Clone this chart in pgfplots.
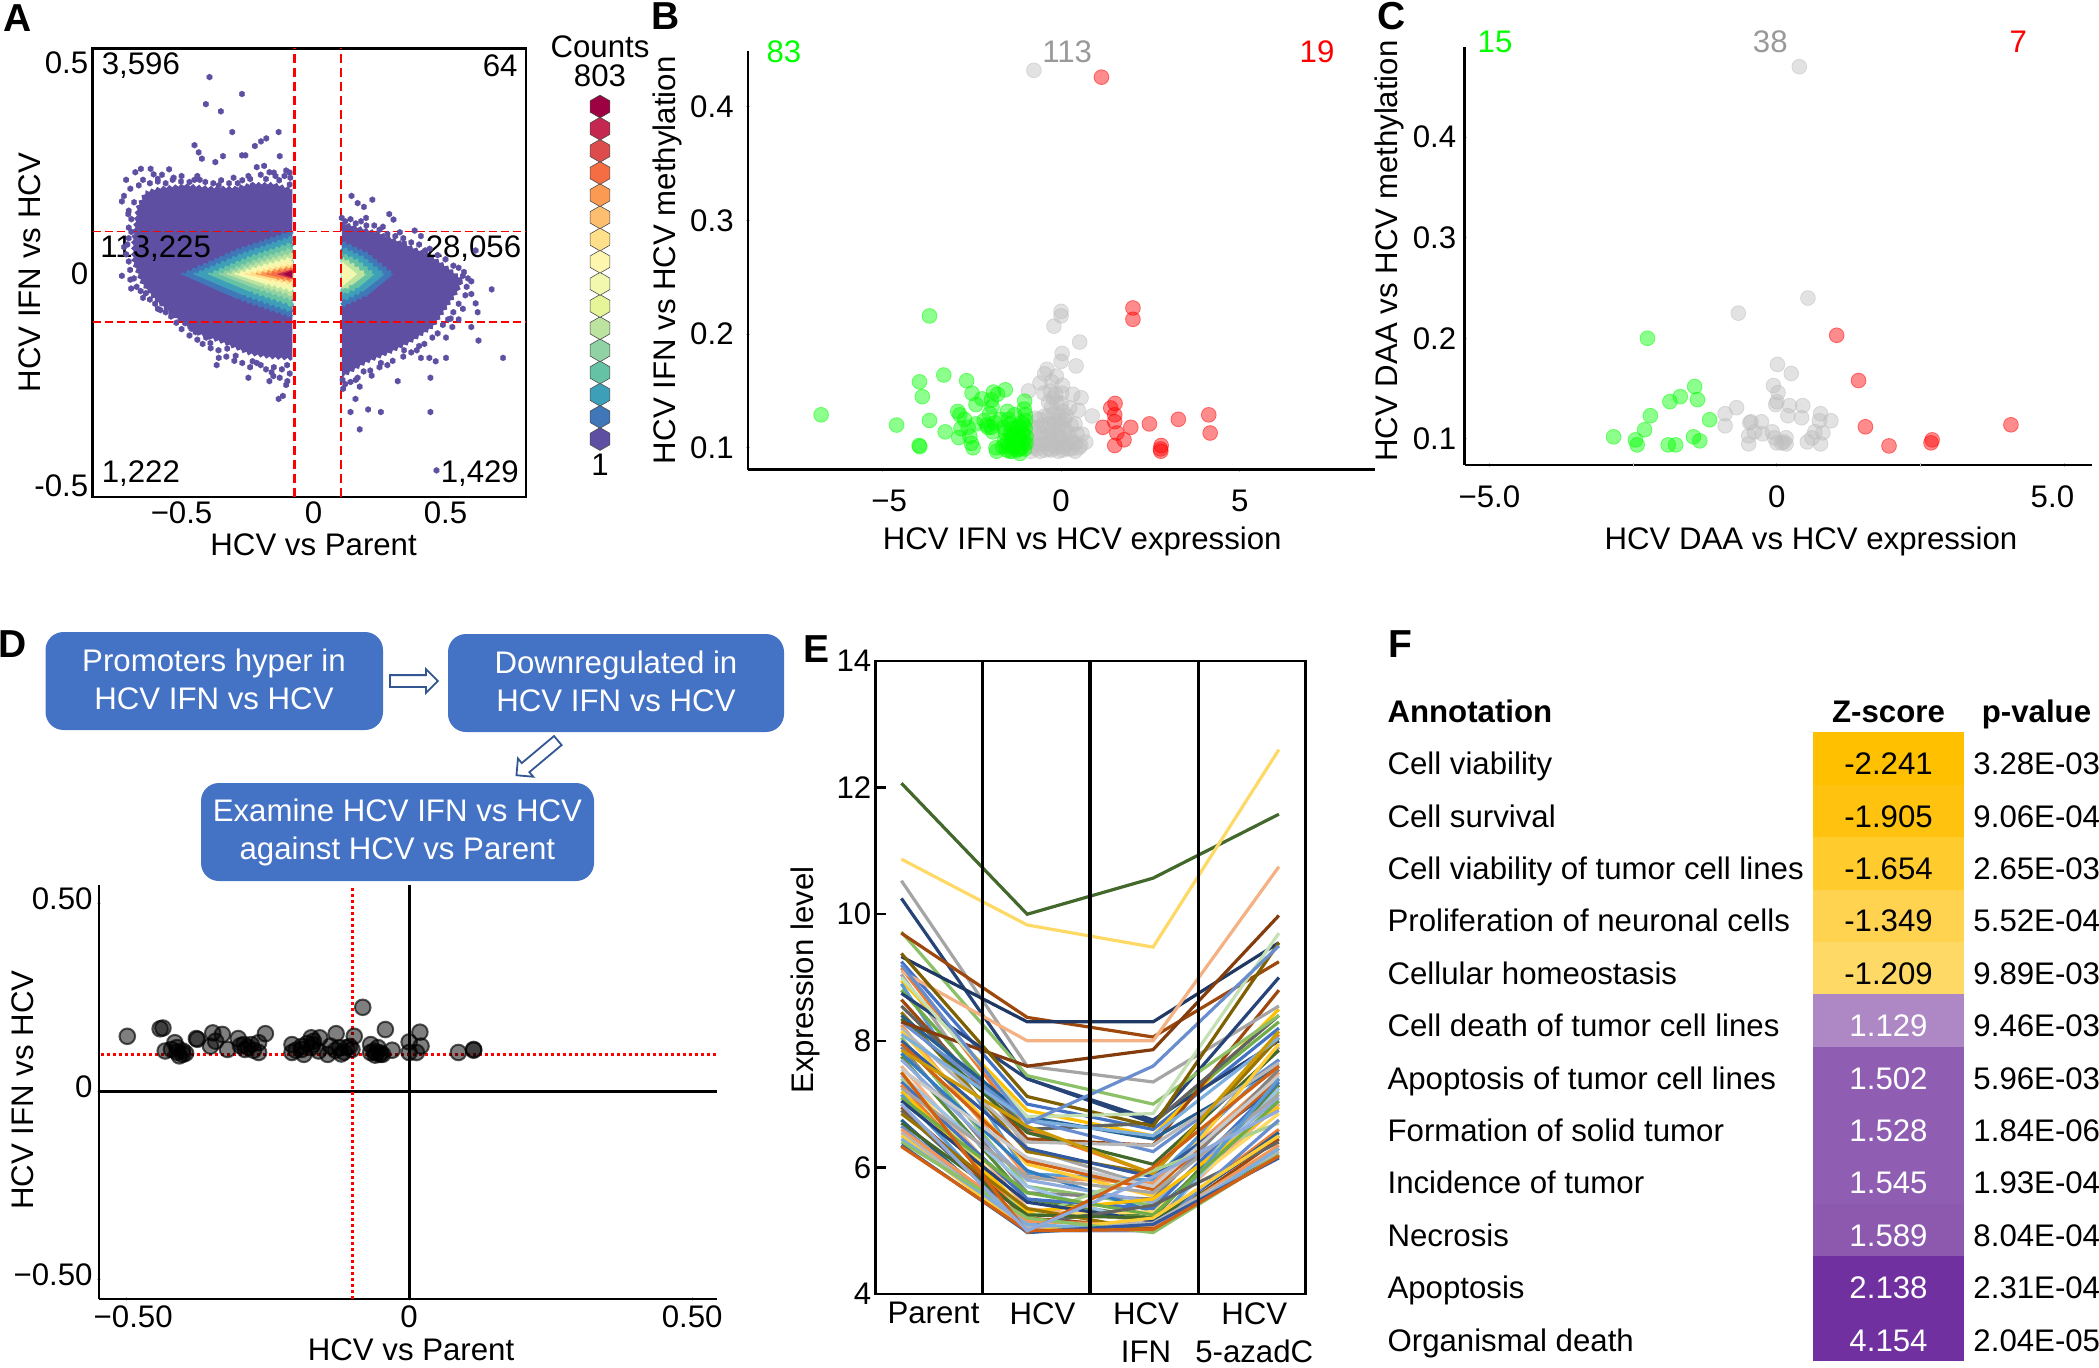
\documentclass[border=0pt]{standalone}
\usepackage{pgfplots}
\pgfplotsset{compat=1.18}
\usepackage{fontspec}
\setmainfont{Liberation Sans}
\usetikzlibrary{shapes.arrows,decorations.pathmorphing}

\newcommand{\ts}{\fontsize{15.6}{19}\selectfont}
\definecolor{boxblue}{HTML}{4472C4}
\definecolor{lime}{HTML}{00FF00}
\definecolor{dgray}{HTML}{999999}
\definecolor{pgray}{HTML}{BEBEBE}
% hexbin levels, 1 = low
\definecolor{h1}{HTML}{5E4FA2}\definecolor{h2}{HTML}{3F77B8}\definecolor{h3}{HTML}{3E9FB9}\definecolor{h4}{HTML}{66C2A5}
\definecolor{h5}{HTML}{90D2A4}\definecolor{h6}{HTML}{BDE3A0}\definecolor{h7}{HTML}{E6F598}\definecolor{h8}{HTML}{F2F9AE}
\definecolor{h9}{HTML}{FEF5AF}\definecolor{h10}{HTML}{FEE08B}\definecolor{h11}{HTML}{FDBE6F}\definecolor{h12}{HTML}{FB9A52}
\definecolor{h13}{HTML}{F46D43}\definecolor{h14}{HTML}{DC4C4C}\definecolor{h15}{HTML}{C4274F}\definecolor{h16}{HTML}{9E0142}
% line colours of panel E
\definecolor{e1}{HTML}{4472C4}\definecolor{e2}{HTML}{ED7D31}\definecolor{e3}{HTML}{A5A5A5}\definecolor{e4}{HTML}{FFC000}
\definecolor{e5}{HTML}{5B9BD5}\definecolor{e6}{HTML}{70AD47}\definecolor{e7}{HTML}{264478}\definecolor{e8}{HTML}{9E480E}
\definecolor{e9}{HTML}{636363}\definecolor{e10}{HTML}{997300}\definecolor{e11}{HTML}{255E91}\definecolor{e12}{HTML}{43682B}
\definecolor{e13}{HTML}{698ED0}\definecolor{e14}{HTML}{F1975A}\definecolor{e15}{HTML}{B7B7B7}\definecolor{e16}{HTML}{FFCD33}
\definecolor{e17}{HTML}{7CAFDD}\definecolor{e18}{HTML}{8CC168}\definecolor{e19}{HTML}{335AA1}\definecolor{e20}{HTML}{D26012}
\definecolor{e21}{HTML}{848484}\definecolor{e22}{HTML}{CC9A00}\definecolor{e23}{HTML}{327DC2}\definecolor{e24}{HTML}{5A8A39}
\definecolor{e25}{HTML}{8FAADC}\definecolor{e26}{HTML}{F4B183}\definecolor{e27}{HTML}{C9C9C9}\definecolor{e28}{HTML}{FFD966}
\definecolor{e29}{HTML}{9DC3E6}\definecolor{e30}{HTML}{A9D18E}\definecolor{e31}{HTML}{1F3864}\definecolor{e32}{HTML}{843C0C}
\definecolor{e33}{HTML}{7F6000}\definecolor{e34}{HTML}{C5E0B4}
% table fills of panel F
\definecolor{f1}{HTML}{FFC000}\definecolor{f2}{HTML}{FFC20E}\definecolor{f3}{HTML}{FFCB2D}\definecolor{f4}{HTML}{FFD34F}\definecolor{f5}{HTML}{FFD966}
\definecolor{f6}{HTML}{AE88C4}\definecolor{f7}{HTML}{8F5DB1}\definecolor{f8}{HTML}{8C59AE}\definecolor{f9}{HTML}{7030A0}

\pgfdeclareplotmark{hexa}{%
  \pgfpathmoveto{\pgfqpoint{0pt}{\pgfplotmarksize}}%
  \pgfpathlineto{\pgfqpoint{0.866\pgfplotmarksize}{0.5\pgfplotmarksize}}%
  \pgfpathlineto{\pgfqpoint{0.866\pgfplotmarksize}{-0.5\pgfplotmarksize}}%
  \pgfpathlineto{\pgfqpoint{0pt}{-\pgfplotmarksize}}%
  \pgfpathlineto{\pgfqpoint{-0.866\pgfplotmarksize}{-0.5\pgfplotmarksize}}%
  \pgfpathlineto{\pgfqpoint{-0.866\pgfplotmarksize}{0.5\pgfplotmarksize}}%
  \pgfpathclose\pgfusepathqfillstroke}

\pgfplotsset{
  base/.style={scale only axis,anchor=north west,clip=false,
    tick label style={font=\ts,inner sep=2pt},label style={font=\ts}},
  lined/.style={base,axis x line=bottom,axis y line=left,axis line style={-,line width=1.3pt},
    major tick length=2pt,tick style={pgray,line width=.4pt}},
  % hexbin density band, jagged outline
  hx/.style={fill=#1,draw=none,decorate,decoration={zigzag,segment length=3pt,amplitude=.7pt}},
  % translucent dots of panels B, C
  gdot/.style={only marks,mark=*,mark size=3.7pt,
    mark options={fill=#1,draw=#1,fill opacity=.45,draw opacity=.5,line width=.4pt}},
  bdot/.style={only marks,mark=*,mark size=3.9pt,
    mark options={fill=black,draw=black,fill opacity=.5,draw opacity=.65,line width=1pt}},
}
\newcommand{\el}[4]{\addplot coordinates {(0,#1)(1,#2)(2,#3)(3,#4)};}
\newcommand{\es}[5]{\addplot[#1] coordinates {(0,#2)(1,#3)(2,#4)(3,#5)};}
% row index, next index, fill, text colour, name, z, p
\newcommand{\frow}[7]{%
  \addplot[fill=#3,draw=none] coordinates {(0,#1)(1,#1)(1,#2)(0,#2)};
  \node[anchor=west,inner sep=0pt,text height=11.5pt,text depth=3.3pt,yshift=-4pt] at (axis cs:-2.82,#1.5) {#5};
  \node[text=#4,inner sep=0pt,text height=11.5pt,text depth=3.3pt,yshift=-4pt] at (axis cs:0.5,#1.5) {#6};
  \node[anchor=west,inner sep=0pt,text height=11.5pt,text depth=3.3pt,yshift=-4pt] at (axis cs:1.06,#1.5) {#7};}

\begin{document}
\begin{tikzpicture}[every node/.style={font=\ts}]
\useasboundingbox (0pt,0pt) rectangle (1049.5pt,-683.5pt);

%% A
\begin{axis}[base,at={(46.3pt,-24.15pt)},width=216.7pt,height=224.35pt,
  xmin=-0.837,xmax=0.805,ymin=-0.527,ymax=0.534,
  major tick length=0pt,axis line style={line width=1.4pt},
  xtick={-0.5,0,0.5},xticklabels={−0.5,0,0.5},
  ytick={-0.5,0,0.5},yticklabels={-0.5,0,0.5},
  xlabel={HCV vs Parent},ylabel={HCV IFN vs HCV},
  xlabel style={at={(axis description cs:.51,-.107)},anchor=center},
  ylabel style={at={(axis description cs:-.1456,.5)},anchor=center}]
\addplot[hx=h1] coordinates {(-.080,.202)(-.152,.215)(-.231,.215)(-.295,.206)(-.391,.206)(-.486,.212)(-.582,.205)(-.638,.195)(-.670,.159)(-.678,.116)(-.686,.082)(-.686,.030)(-.654,-.021)(-.598,-.064)(-.518,-.107)(-.439,-.142)(-.343,-.163)(-.247,-.189)(-.167,-.198)(-.080,-.202)};
\addplot[hx=h1] coordinates {(.107,.123)(.167,.112)(.247,.099)(.343,.073)(.439,.047)(.518,.013)(.566,-.013)(.550,-.039)(.502,-.082)(.455,-.125)(.375,-.159)(.295,-.185)(.199,-.210)(.107,-.245)};
\addplot[hx=h2] coordinates {(-.502,0)(-.292,.058)(-.080,.103)(-.080,-.103)(-.292,-.058)};
\addplot[hx=h3] coordinates {(-.455,0)(-.267,.050)(-.080,.090)(-.080,-.090)(-.267,-.050)};
\addplot[hx=h4] coordinates {(-.400,0)(-.240,.042)(-.080,.075)(-.080,-.075)(-.240,-.042)};
\addplot[hx=h5] coordinates {(-.360,0)(-.220,.034)(-.080,.062)(-.080,-.062)(-.220,-.034)};
\addplot[hx=h6] coordinates {(-.330,0)(-.205,.028)(-.080,.050)(-.080,-.050)(-.205,-.028)};
\addplot[hx=h8] coordinates {(-.300,0)(-.190,.022)(-.080,.040)(-.080,-.040)(-.190,-.022)};
\addplot[hx=h9] coordinates {(-.280,0)(-.180,.017)(-.080,.030)(-.080,-.030)(-.180,-.017)};
\addplot[hx=h10] coordinates {(-.260,0)(-.170,.013)(-.080,.024)(-.080,-.024)(-.170,-.013)};
\addplot[hx=h12] coordinates {(-.220,0)(-.150,.010)(-.080,.018)(-.080,-.018)(-.150,-.010)};
\addplot[hx=h13] coordinates {(-.180,0)(-.130,.008)(-.080,.014)(-.080,-.014)(-.130,-.008)};
\addplot[fill=h15,draw=none] coordinates {(-.140,0)(-.080,.011)(-.080,-.011)};
\addplot[fill=h16,draw=none] coordinates {(-.115,0)(-.080,.008)(-.080,-.008)};
\addplot[hx=h2] coordinates {(.303,0)(.205,.050)(.107,.078)(.107,-.078)(.205,-.050)};
\addplot[hx=h3] coordinates {(.270,0)(.190,.040)(.107,.065)(.107,-.065)(.190,-.040)};
\addplot[hx=h4] coordinates {(.231,0)(.170,.032)(.107,.050)(.107,-.050)(.170,-.032)};
\addplot[hx=h6] coordinates {(.200,0)(.150,.024)(.107,.040)(.107,-.040)(.150,-.024)};
\addplot[fill=h8,draw=none] coordinates {(.165,0)(.107,.030)(.107,-.030)};
\addplot[fill=h9,draw=none] coordinates {(.135,0)(.107,.020)(.107,-.020)};
\addplot[only marks,mark=hexa,mark size=1.55pt,mark options={fill=h1,draw=h1,line width=.1pt}] coordinates {
(-.394,.466)(-.271,.426)(-.408,.402)(-.351,.385)(-.308,.336)(-.132,.336)(-.179,.321)(-.199,.314)(-.222,.303)
(-.451,.305)(-.435,.288)(-.423,.273)(-.343,.279)(-.372,.265)(-.271,.281)(-.258,.281)(-.128,.279)
(-.710,.223)(-.675,.241)(-.654,.249)(-.617,.249)(-.606,.236)(-.574,.235)(-.547,.248)(-.646,.223)(-.590,.219)
(-.718,.185)(-.726,.172)(-.694,.202)(-.662,.210)(-.534,.223)(-.502,.219)(-.451,.223)(-.431,.223)(-.303,.228)
(-.287,.215)(-.247,.232)(-.215,.253)(-.187,.256)(-.167,.241)(-.144,.232)(-.104,.245)(-.088,.228)(-.231,.210)(-.359,.210)
(-.702,.142)(-.718,.064)(-.710,.047)(-.726,-.004)(-.694,-.013)(-.691,-.034)(-.670,.082)(-.646,-.056)
(-.590,-.082)(-.518,-.086)(-.502,-.103)(-.486,-.116)(-.463,-.129)(-.447,-.137)(-.407,-.150)(-.391,-.163)
(-.359,-.198)(-.367,-.215)(-.327,-.176)(-.295,-.193)(-.231,-.206)(-.159,-.232)(-.152,-.241)(-.128,-.245)
(-.099,-.253)(-.247,-.245)(-.167,-.253)(-.104,-.262)(-.116,-.288)(-.132,-.295)(-.215,-.210)
(.107,.133)(.144,.185)(.167,.168)(.191,.159)(.223,.176)(.199,.133)(.287,.142)(.303,.129)(.263,.112)
(.327,.099)(.383,.103)(.407,.090)(.343,.073)(.423,.056)(.614,.056)(.566,-.004)(.598,-.017)(.675,-.036)
(.598,-.047)(.614,-.069)(.622,-.090)(.566,-.082)(.550,-.107)(.510,-.107)(.526,-.125)(.598,-.125)(.625,-.157)
(.718,-.198)(.502,-.150)(.439,-.198)(.463,-.206)(.502,-.198)(.391,-.180)(.343,-.180)(.407,-.198)(.319,-.253)
(.443,-.245)(.255,-.210)(.215,-.228)(.167,-.245)(.175,-.266)(.112,-.271)(.159,-.295)(.140,-.326)(.207,-.320)
(.255,-.326)(.443,-.326)(.175,-.367)(.466,-.464)
(-.62,.215)(-.59,.225)(-.56,.215)(-.53,.228)(-.50,.232)(-.47,.218)(-.44,.232)(-.41,.218)(-.38,.215)(-.35,.222)
(-.32,.215)(-.27,.222)(-.24,.225)(-.20,.235)(-.18,.225)(-.15,.240)(-.13,.222)(-.11,.232)(-.09,.240)(-.09,.212)
(-.68,.17)(-.70,.15)(-.69,.13)(-.70,.11)(-.69,.10)(-.70,.085)(-.705,.07)(-.70,.03)(-.695,.01)(-.68,-.01)(-.67,-.03)
(-.655,-.04)(-.635,-.045)(-.62,-.06)(-.60,-.07)(-.58,-.085)(-.56,-.09)(-.54,-.10)(-.52,-.115)(-.50,-.13)(-.47,-.145)
(-.44,-.155)(-.42,-.165)(-.39,-.175)(-.36,-.18)(-.33,-.195)(-.30,-.205)(-.27,-.21)(-.24,-.22)(-.20,-.215)(-.18,-.225)
(-.15,-.22)(-.12,-.225)(-.10,-.215)(-.09,-.235)
(.12,.125)(.14,.13)(.16,.12)(.18,.125)(.20,.115)(.23,.115)(.25,.105)(.28,.095)(.31,.09)(.34,.085)(.37,.075)(.40,.07)
(.44,.06)(.47,.045)(.50,.035)(.53,.02)(.55,.015)(.57,.005)(.585,-.01)(.58,-.03)(.575,-.05)(.55,-.07)(.53,-.09)(.52,-.105)
(.49,-.12)(.47,-.14)(.45,-.15)(.42,-.165)(.40,-.17)(.37,-.185)(.34,-.195)(.30,-.205)(.28,-.215)(.25,-.22)(.22,-.24)
(.19,-.23)(.16,-.25)(.14,-.255)(.12,-.26)(.11,-.25)};
\addplot[red,line width=1.3pt,dash pattern=on 4.5pt off 2.5pt] coordinates {(-.073,-.527)(-.073,.534)};
\addplot[red,line width=1.3pt,dash pattern=on 4.5pt off 2.5pt] coordinates {(.104,-.527)(.104,.534)};
\addplot[red,line width=.8pt,dash pattern=on 4pt off 2pt] coordinates {(-.837,.1005)(.805,.1005)};
\addplot[red,line width=.8pt,dash pattern=on 4pt off 2pt] coordinates {(-.837,-.113)(.805,-.113)};
\node at (axis cs:-.654,.492) {3,596};
\node at (axis cs:.707,.492) {64};
\node at (axis cs:-.598,.060) {113,225};
\node at (axis cs:.606,.060) {28,056};
\node at (axis cs:-.654,-.472) {1,222};
\node at (axis cs:.63,-.472) {1,429};
\end{axis}

%% hexbin key
\begin{axis}[base,hide axis,at={(290pt,-53.25pt)},width=20pt,height=166.25pt,
  xmin=-1,xmax=1,ymin=1,ymax=16]
\pgfplotsinvokeforeach{1,...,16}{
  \addplot[only marks,mark=hexa,mark size=5.7pt,mark options={fill=h#1,draw=black!70,line width=.3pt}] coordinates {(0,#1)};
}
\node at (axis cs:0,18.68) {Counts};
\node at (axis cs:0,17.38) {803};
\node at (axis cs:0,-.17) {1};
\end{axis}

%% B
\begin{axis}[lined,at={(374pt,-25.5pt)},width=313.5pt,height=209.3pt,
  xmin=-8.755,xmax=8.78,ymin=.0808,ymax=.449,
  xtick={-5,0,5},xticklabels={\hspace*{7pt}−5,0,5},
  ytick={.1,.2,.3,.4},yticklabels={0.1,0.2,0.3,0.4},
  xticklabel style={yshift=-7pt},yticklabel style={xshift=-4pt},
  xlabel={HCV IFN vs HCV expression},ylabel={HCV IFN vs HCV methylation},
  xlabel style={at={(axis description cs:.533,-.172)},anchor=center},
  ylabel style={at={(axis description cs:-.128,.5)},anchor=center}]
\addplot[gdot=pgray] coordinates {
(-.76,.432)(0,.220)(0,.216)(-.20,.207)(.52,.193)(.03,.183)(0,.176)(.42,.172)(-.39,.169)(-.46,.165)(-.13,.163)
(-.26,.158)(-.59,.157)(.04,.155)(-.91,.150)(-.30,.150)(.33,.147)(.56,.144)(0,.139)(-.26,.136)(.87,.128)(.48,.133)
(-.46,.128)(-.72,.126)(-.07,.129)(.39,.121)(-.33,.121)(-.65,.117)(0,.120)(.59,.112)(.69,.105)(.20,.113)
(-.13,.113)(0,.109)(-.26,.107)(-.46,.109)(-.72,.105)(-.85,.097)(-.59,.097)(-.33,.099)(-.07,.097)(.20,.099)
(.39,.097)(-.20,.102)(.07,.104)(.33,.105)(-.72,.113)(-.15,.147)(-.20,.130)(.10,.125)(-.10,.118)(.05,.132)
(-.55,.112)(-.40,.104)(-.25,.116)(-.05,.110)(.12,.116)(.25,.108)(.45,.112)(-.62,.103)(-.45,.098)(-.15,.100)
(.05,.098)(.15,.104)(-.80,.101)(-.68,.099)(-.30,.110)(-.18,.122)(-.05,.124)(.28,.120)(.50,.100)(.30,.099)
(-.35,.128)(-.60,.125)(-.78,.118)(.15,.128)(-.12,.140)(-.22,.144)(-.35,.140)(-.48,.148)(.02,.148)(.24,.135)
(.40,.104)(.55,.102)(-.10,.106)(-.38,.116)(-.52,.120)(.10,.100)(-.02,.102)(-.27,.098)(-.52,.104)(-.90,.106)};
\addplot[gdot=lime] coordinates {
(-6.71,.129)(-4.60,.120)(-3.96,.158)(-3.88,.145)(-3.68,.216)(-3.68,.124)(-3.28,.164)(-3.24,.114)(-3.97,.102)(-3.95,.101)
(-2.64,.159)(-2.49,.148)(-2.38,.138)(-2.21,.143)(-1.89,.149)(-1.78,.147)(-1.56,.151)(-1.93,.136)(-2.89,.132)(-2.83,.129)
(-2.80,.117)(-2.86,.109)(-2.51,.104)(-2.46,.100)(-2.38,.121)(-2.08,.120)(-1.95,.118)(-1.91,.114)(-1.80,.097)(-1.50,.132)
(-1.43,.121)(-1.30,.129)(-1.02,.141)(-1.03,.134)(-1.00,.129)(-1.37,.097)(-1.30,.102)(-1.17,.107)(-1.11,.113)(-1.04,.120)
(-1.50,.105)(-1.56,.113)(-1.37,.110)(-1.24,.117)(-1.04,.105)(-1.37,.117)(-1.17,.099)(-.98,.110)(-1.43,.097)(-1.15,.095)
(-1.63,.101)(-1.25,.104)(-1.10,.100)(-1.30,.112)(-1.20,.114)(-1.05,.112)(-1.45,.102)(-1.35,.100)(-1.00,.117)(-1.28,.107)
(-1.22,.098)(-1.12,.106)(-1.40,.106)(-1.52,.098)(-1.02,.099)(-.98,.104)(-1.18,.119)(-1.10,.122)(-1.00,.124)(-1.82,.100)
(-2.05,.118)(-1.85,.122)(-2.15,.124)(-2.60,.118)(-2.70,.125)(-2.55,.110)(-1.60,.118)(-1.70,.125)(-1.95,.142)(-2.00,.130)
(-1.47,.125)(-1.42,.113)(-1.58,.106)};
\addplot[gdot=red] coordinates {
(1.13,.426)(2.01,.223)(2.01,.213)(1.51,.139)(1.39,.135)(1.50,.129)(1.50,.123)(1.17,.118)(1.95,.118)(2.47,.121)
(3.28,.125)(4.13,.129)(4.17,.113)(1.56,.113)(1.76,.107)(1.50,.102)(2.80,.102)(2.79,.097)(2.78,.099)};
\node[text=lime] at (axis cs:-7.75,.448) {83};
\node[text=dgray] at (axis cs:.17,.448) {113};
\node[text=red] at (axis cs:7.16,.448) {19};
\end{axis}

%% C
\begin{axis}[lined,at={(732.3pt,-23.5pt)},width=313.7pt,height=209pt,
  xmin=-5.43,xmax=5.48,ymin=.074,ymax=.4896,
  xtick={-5,0,5},xticklabels={−5.0,0,\hspace*{-12pt}5.0},
  extra x ticks={-2.5,2.5},extra x tick labels={},
  ytick={.1,.2,.3,.4},yticklabels={0.1,0.2,0.3,0.4},
  xticklabel style={yshift=-7pt},yticklabel style={xshift=-1pt},
  xlabel={HCV DAA vs HCV expression},ylabel={HCV DAA vs HCV methylation},
  xlabel style={at={(axis description cs:.552,-.183)},anchor=center},
  ylabel style={at={(axis description cs:-.12,.512)},anchor=center}]
\addplot[gdot=pgray] coordinates {
(.39,.470)(.54,.240)(-.67,.225)(.01,.174)(.25,.165)(-.06,.153)(.02,.146)(0,.137)(-.02,.134)(.22,.133)(.45,.133)
(.19,.123)(.43,.121)(-.70,.131)(-.90,.125)(-.90,.113)(-.47,.116)(-.27,.117)(-.45,.117)(.76,.125)(.94,.118)(.74,.118)
(.66,.107)(.80,.106)(.61,.101)(.53,.097)(.76,.095)(-.49,.103)(-.49,.095)(-.25,.105)(-.39,.107)(-.08,.107)(-.04,.101)
(0,.096)(.16,.101)(.16,.095)(.08,.096)(.12,.097)};
\addplot[gdot=lime] coordinates {
(-2.25,.200)(-2.84,.102)(-2.46,.099)(-2.43,.094)(-2.30,.109)(-2.20,.123)(-1.89,.094)(-1.76,.094)(-1.86,.137)(-1.68,.142)
(-1.43,.152)(-1.38,.139)(-1.45,.102)(-1.34,.098)(-1.17,.119)};
\addplot[gdot=red] coordinates {(1.04,.203)(1.42,.158)(1.54,.112)(1.95,.093)(2.68,.096)(2.70,.099)(4.07,.114)};
\node[text=lime] at (axis cs:-4.9,.495) {15};
\node[text=dgray] at (axis cs:-.115,.495) {38};
\node[text=red] at (axis cs:4.2,.495) {7};
\end{axis}

%% D, flow boxes
\fill[boxblue,rounded corners=9pt] (22.75pt,-316pt) rectangle (191.5pt,-365pt);
\fill[boxblue,rounded corners=9pt] (224pt,-317pt) rectangle (392pt,-366pt);
\fill[boxblue,rounded corners=9pt] (100.5pt,-391.5pt) rectangle (297pt,-440.5pt);
\node[text=white,align=center] at (107pt,-339.7pt) {Promoters hyper in\\HCV IFN vs HCV};
\node[text=white,align=center] at (308pt,-340.5pt) {Downregulated in\\HCV IFN vs HCV};
\node[text=white,align=center] at (198.7pt,-416pt) {Examine HCV IFN vs HCV\\against HCV vs Parent};
\node[single arrow,draw=boxblue!75!black,fill=white,line width=.9pt,minimum height=24pt,inner sep=2.5pt,single arrow head extend=3pt] at (205.5pt,-340.5pt) {};
\node[single arrow,draw=boxblue!75!black,fill=white,line width=.9pt,minimum height=27pt,inner sep=2.5pt,single arrow head extend=3pt,rotate=220] at (269.7pt,-378pt) {};

\begin{axis}[lined,at={(49.5pt,-442.3pt)},width=309pt,height=207.2pt,
  xmin=-.548,xmax=.544,ymin=-.551,ymax=.55,
  xtick={-.5,0,.5},xticklabels={\hspace*{7pt}−0.50,0,0.50},
  ytick={-.5,0,.5},yticklabels={−0.50,0,0.50},yticklabel style={yshift=2.5pt},
  xlabel={HCV vs Parent},ylabel={HCV IFN vs HCV},
  xlabel style={at={(axis description cs:.505,-.122)},anchor=center},
  ylabel style={at={(axis description cs:-.124,.504)},anchor=center}]
\addplot[bdot] coordinates {
(-.498,.147)(-.44,.167)(-.435,.169)(-.431,.108)(-.414,.130)(-.41,.117)(-.40,.099)(-.406,.095)(-.376,.141)(-.374,.139)
(-.347,.156)(-.342,.134)(-.33,.152)(-.351,.121)(-.321,.112)(-.302,.141)(-.292,.125)(-.279,.125)(-.266,.130)(-.266,.104)
(-.254,.154)(-.207,.125)(-.207,.104)(-.19,.112)(-.186,.099)(-.173,.143)(-.169,.134)(-.158,.143)(-.173,.117)(-.144,.099)
(-.139,.121)(-.129,.154)(-.123,.117)(-.11,.117)(-.097,.147)(-.101,.112)(-.082,.224)(-.068,.125)(-.068,.104)(-.055,.117)
(-.051,.099)(-.042,.165)(-.03,.11)(0,.132)(0,.104)(.019,.158)(.021,.121)(.013,.104)(.087,.104)(.114,.112)(.114,.110)
(-.298,.122)(-.285,.118)(-.062,.108)(-.058,.103)(-.051,.103)(-.047,.099)(-.42,.112)(-.40,.108)(-.19,.120)(-.18,.128)(-.16,.108)
(-.13,.110)(-.115,.105)(-.20,.110)(-.29,.112)(-.275,.110)(-.41,.105)(-.395,.102)(-.17,.125)(-.12,.100)(-.105,.120)(-.06,.097)};
\addplot[black,line width=1.5pt] coordinates {(0,-.551)(0,.55)};
\addplot[black,line width=1.7pt] coordinates {(-.548,0)(.544,0)};
\addplot[red,line width=1.5pt,dash pattern=on 1.5pt off 1.5pt] coordinates {(-.1,-.551)(-.1,.54)};
\addplot[red,line width=1.5pt,dash pattern=on 1.5pt off 1.5pt] coordinates {(-.545,.099)(.544,.099)};
\end{axis}

%% E
\begin{axis}[base,at={(437.85pt,-330.5pt)},width=215pt,height=316.5pt,
  xmin=-.204,xmax=3.213,ymin=4,ymax=14,
  axis line style={line width=1.4pt},
  no markers,every axis plot/.append style={line width=1.6pt},
  cycle list={{e1},{e2},{e3},{e4},{e5},{e6},{e7},{e8},{e9},{e10},{e11},{e12},{e13},{e14},{e15},{e16},{e17},{e18},{e19},{e20},{e21},{e22},{e23},{e24},{e25},{e26},{e27},{e28},{e29},{e30}},
  xtick={.255,1.121,1.944,2.804},xticklabels={Parent,HCV,{HCV\\IFN},{HCV\\5-azadC}},
  xticklabel style={align=center,yshift=-2pt},xtick style={draw=none},
  ytick={4,6,8,10,12,14},yticklabels={4,6,8,10,12,14},ytick pos=left,
  ytick style={line width=1.2pt,black},major tick length=5pt,
  ylabel={Expression level},
  ylabel style={at={(axis description cs:-.164,.496)},anchor=center}]
\el{9.25}{7.0}{6.6}{8.2}
\el{9.15}{6.6}{5.9}{8.1}
\el{9.05}{6.3}{5.7}{7.9}
\el{8.95}{6.9}{6.5}{8.5}
\el{8.9}{5.9}{5.8}{7.7}
\el{8.8}{6.6}{6.7}{8.3}
\el{8.75}{7.4}{6.75}{8.0}
\el{8.65}{6.45}{6.35}{8.8}
\el{8.55}{6.6}{6.7}{8.4}
\el{8.45}{6.25}{5.9}{8.05}
\el{8.4}{6.8}{6.45}{7.6}
\el{8.35}{6.55}{6.05}{7.85}
\el{8.3}{6.75}{6.25}{7.7}
\el{8.25}{5.85}{5.75}{7.5}
\el{8.2}{6.4}{6.35}{7.65}
\el{8.15}{6.05}{5.55}{7.95}
\el{8.1}{6.75}{6.5}{8.05}
\el{8.05}{5.7}{5.4}{7.2}
\el{8.0}{6.3}{5.85}{7.3}
\el{7.95}{6.1}{5.65}{7.4}
\el{7.9}{5.6}{5.5}{7.55}
\el{7.85}{6.65}{5.9}{8.15}
\el{7.8}{5.95}{5.3}{7.0}
\el{7.75}{5.5}{5.2}{7.3}
\el{7.7}{5.8}{5.45}{7.1}
\el{7.6}{5.35}{5.15}{7.0}
\el{7.55}{6.15}{5.7}{7.45}
\el{7.5}{5.25}{5.3}{6.85}
\el{7.45}{5.7}{5.05}{7.25}
\el{7.4}{5.2}{5.95}{6.7}
\el{7.35}{5.5}{5.35}{7.35}
\el{7.3}{5.15}{5.1}{6.6}
\el{7.25}{5.85}{5.6}{7.15}
\el{7.2}{5.3}{5.5}{6.95}
\el{7.15}{5.05}{5.05}{7.4}
\el{7.1}{5.6}{5.25}{7.05}
\el{7.05}{5.45}{5.15}{6.5}
\el{6.95}{5.2}{5.05}{6.45}
\el{6.9}{5.1}{5.4}{6.4}
\el{6.85}{5.35}{5.0}{6.3}
\el{6.75}{4.97}{5.1}{6.55}
\el{6.7}{5.25}{5.2}{6.2}
\el{6.65}{5.0}{5.0}{6.75}
\el{6.6}{5.15}{5.08}{6.35}
\el{6.55}{5.05}{5.12}{6.25}
\el{6.5}{4.98}{5.2}{6.5}
\el{6.45}{5.1}{5.0}{6.3}
\el{6.4}{5.2}{4.97}{6.2}
\el{6.35}{4.98}{5.1}{6.15}
\el{6.33}{5.0}{5.02}{6.18}
\es{e20}{7.5}{4.98}{6.0}{7.6}
\es{e25}{7.0}{5.0}{5.85}{6.9}
\es{e12}{12.07}{10.0}{10.57}{11.58}
\es{e28}{10.87}{9.83}{9.48}{12.6}
\es{e3}{10.53}{7.6}{7.35}{8.55}
\es{e7}{10.25}{7.4}{6.7}{9.0}
\es{e18}{9.72}{7.45}{7.0}{8.4}
\es{e8}{9.7}{8.37}{8.06}{9.25}
\es{e31}{9.33}{8.3}{8.3}{9.55}
\es{e26}{9.1}{8.0}{8.0}{10.75}
\es{e32}{8.3}{7.6}{7.86}{9.98}
\es{e33}{9.38}{7.12}{6.65}{9.55}
\es{e34}{9.0}{6.8}{6.85}{9.7}
\es{e13}{9.2}{6.7}{7.6}{9.5}
\addplot[black,line width=1.6pt] coordinates {(.644,4)(.644,14)};
\addplot[black,line width=1.6pt] coordinates {(1.499,4)(1.499,14)};
\addplot[black,line width=1.6pt] coordinates {(2.359,4)(2.359,14)};
\end{axis}

%% F
\begin{axis}[base,hide axis,at={(906.5pt,-366.2pt)},width=75.5pt,height=314.3pt,
  xmin=0,xmax=1,ymin=0,ymax=12,y dir=reverse]
\frow{0}{1}{f1}{black}{Cell viability}{-2.241}{3.28E-03}
\frow{1}{2}{f2}{black}{Cell survival}{-1.905}{9.06E-04}
\frow{2}{3}{f3}{black}{Cell viability of tumor cell lines}{-1.654}{2.65E-03}
\frow{3}{4}{f4}{black}{Proliferation of neuronal cells}{-1.349}{5.52E-04}
\frow{4}{5}{f5}{black}{Cellular homeostasis}{-1.209}{9.89E-03}
\frow{5}{6}{f6}{white}{Cell death of tumor cell lines}{1.129}{9.46E-03}
\frow{6}{7}{f7}{white}{Apoptosis of tumor cell lines}{1.502}{5.96E-03}
\frow{7}{8}{f7}{white}{Formation of solid tumor}{1.528}{1.84E-06}
\frow{8}{9}{f7}{white}{Incidence of tumor}{1.545}{1.93E-04}
\frow{9}{10}{f8}{white}{Necrosis}{1.589}{8.04E-04}
\frow{10}{11}{f9}{white}{Apoptosis}{2.138}{2.31E-04}
\frow{11}{12}{f9}{white}{Organismal death}{4.154}{2.04E-05}
\node[anchor=west,inner sep=0pt,font=\ts\bfseries,text height=11.5pt,text depth=3.3pt,yshift=-1.3pt] at (axis cs:-2.82,-.39) {Annotation};
\node[inner sep=0pt,font=\ts\bfseries,text height=11.5pt,text depth=3.3pt,yshift=-1.3pt] at (axis cs:.5,-.39) {Z-score};
\node[inner sep=0pt,font=\ts\bfseries,text height=11.5pt,text depth=3.3pt,yshift=-1.3pt] at (axis cs:1.48,-.39) {p-value};
\end{axis}

%% panel letters
\foreach \l/\px/\py in {A/9/8.8,B/332.8/8,C/696/8,D/6.5/322,E/408/324.5,F/700/322}
  \node[font=\fontsize{19.5}{20}\selectfont\bfseries,inner sep=0pt] at (\px pt,-\py pt) {\l};
\end{tikzpicture}
\end{document}
